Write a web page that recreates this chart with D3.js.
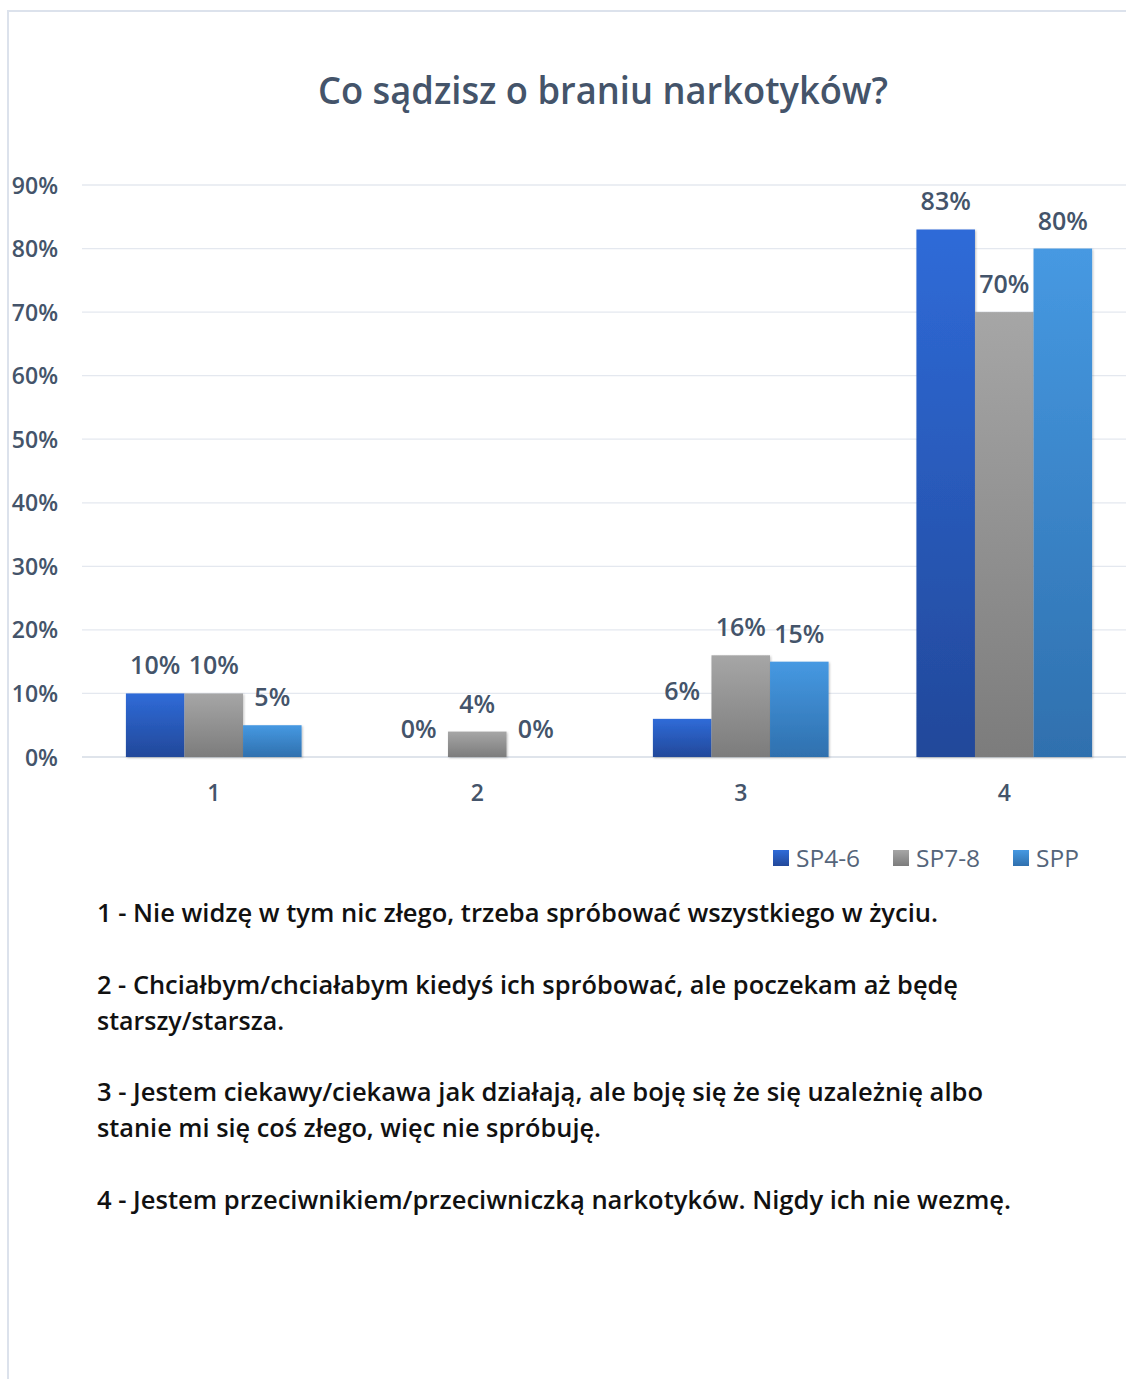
<!DOCTYPE html>
<html><head><meta charset="utf-8">
<script src="https://cdn.jsdelivr.net/npm/d3@7"></script>
<style>html,body{margin:0;padding:0;background:#fff;}svg{display:block;}</style>
</head><body>
<svg id="c" width="1126" height="1379"></svg>
<script>
const title = "Co sądzisz o braniu narkotyków?";
const categories = ["1", "2", "3", "4"];
const seriesNames = ["SP4-6", "SP7-8", "SPP"];
const sp46 = [0.10, 0.00, 0.06, 0.83];
const sp78 = [0.10, 0.04, 0.16, 0.70];
const spp  = [0.05, 0.00, 0.15, 0.80];
const yTicks = [0, 0.1, 0.2, 0.3, 0.4, 0.5, 0.6, 0.7, 0.8, 0.9];
const descLines = [
  "1 - Nie widzę w tym nic złego, trzeba spróbować  wszystkiego w życiu.",
  "2 - Chciałbym/chciałabym kiedyś ich spróbować, ale poczekam aż będę",
  "starszy/starsza.",
  "3 - Jestem ciekawy/ciekawa jak działają, ale boję się że się uzależnię albo",
  "stanie mi się coś złego, więc nie spróbuję.",
  "4 - Jestem przeciwnikiem/przeciwniczką narkotyków. Nigdy ich nie wezmę."
];

const seriesValues = [sp46, sp78, spp];
const gradStops = [["#2F6BD8", "#22489A"], ["#A6A6A6", "#7C7C7C"], ["#4699E2", "#2F70AE"]];

const svg = d3.select("#c");
const defs = svg.append("defs");
gradStops.forEach((s, i) => {
  const g = defs.append("linearGradient").attr("id", "g" + i)
    .attr("x1", 0).attr("y1", 0).attr("x2", 0).attr("y2", 1);
  g.append("stop").attr("offset", "0%").attr("stop-color", s[0]);
  g.append("stop").attr("offset", "100%").attr("stop-color", s[1]);
});
const f = defs.append("filter").attr("id", "sh").attr("x", "-10%").attr("y", "-10%").attr("width", "130%").attr("height", "130%");
f.append("feDropShadow").attr("dx", 1).attr("dy", 1).attr("stdDeviation", 1.2).attr("flood-color", "#000").attr("flood-opacity", 0.25);

// frame
svg.append("rect").attr("x", 8).attr("y", 11).attr("width", 1130).attr("height", 1380)
  .attr("fill", "#fff").attr("stroke", "#DCE2EC").attr("stroke-width", 2);

const slate = "#44546A";
const font = "'Open Sans', 'Noto Sans', sans-serif";

svg.append("text").attr("x", 603).attr("y", 104).attr("text-anchor", "middle")
  .attr("font-family", font).attr("font-size", 38).attr("font-weight", 600).attr("fill", slate)
  .attr("textLength", 570).attr("lengthAdjust", "spacingAndGlyphs")
  .text(title);

const x0 = d3.scaleBand().domain(categories).range([82, 1136]).paddingInner(1/3).paddingOuter(1/6);
const x1 = d3.scaleBand().domain(seriesNames).range([0, x0.bandwidth()]);
const y = d3.scaleLinear().domain([0, 0.9]).range([757, 185]);

// gridlines
svg.append("g").selectAll("line").data(yTicks).join("line")
  .attr("x1", 82).attr("x2", 1126)
  .attr("y1", d => y(d)).attr("y2", d => y(d))
  .attr("stroke", d => d === 0 ? "#D5DBE5" : "#E4E8EF").attr("stroke-width", 1.3);

// y axis
const yAxis = d3.axisLeft(y).tickValues(yTicks).tickFormat(d3.format(".0%")).tickSize(0).tickPadding(0);
const ya = svg.append("g").attr("transform", "translate(58,0)").call(yAxis);
ya.select(".domain").remove();
ya.selectAll("text").attr("font-family", font).attr("font-size", 23).attr("font-weight", 600)
  .attr("fill", slate).attr("dy", "0.35em");

// x axis
const xAxis = d3.axisBottom(x0).tickSize(0).tickPadding(0);
const xa = svg.append("g").attr("transform", "translate(0,785)").call(xAxis);
xa.select(".domain").remove();
xa.selectAll("text").attr("font-family", font).attr("font-size", 23).attr("font-weight", 600)
  .attr("fill", slate).attr("dy", "0.71em");

// bars
const groups = svg.append("g").selectAll("g").data(categories).join("g")
  .attr("transform", d => `translate(${x0(d)},0)`);
seriesNames.forEach((s, si) => {
  groups.append("rect")
    .attr("x", x1(s)).attr("width", x1.bandwidth())
    .attr("y", (d, i) => y(seriesValues[si][i]))
    .attr("height", (d, i) => y(0) - y(seriesValues[si][i]))
    .attr("fill", `url(#g${si})`)
    .attr("filter", "url(#sh)");
  groups.append("text")
    .attr("x", x1(s) + x1.bandwidth() / 2)
    .attr("y", (d, i) => y(seriesValues[si][i]) - 19)
    .attr("text-anchor", "middle")
    .attr("font-family", font).attr("font-size", 25).attr("font-weight", 600)
    .attr("fill", slate)
    .text((d, i) => d3.format(".0%")(seriesValues[si][i]));
});

// legend
const legX = [773, 893, 1013];
const leg = svg.append("g").selectAll("g").data(seriesNames).join("g")
  .attr("transform", (d, i) => `translate(${legX[i]},850)`);
leg.append("rect").attr("width", 16).attr("height", 16).attr("fill", (d, i) => `url(#g${i})`);
leg.append("text").attr("x", 23).attr("y", 8).attr("dy", "0.36em")
  .attr("font-family", font).attr("font-size", 24.5).attr("fill", "#55657A")
  .text(d => d);

// description
const descY = [922, 994, 1030, 1101, 1137, 1209];
const descW = [841, 861, 187, 886, 504, 914];
svg.append("g").selectAll("text").data(descLines).join("text")
  .attr("x", 97).attr("y", (d, i) => descY[i])
  .attr("font-family", font).attr("font-size", 26).attr("font-weight", 600)
  .attr("fill", "#111")
  .attr("textLength", (d, i) => descW[i]).attr("lengthAdjust", "spacingAndGlyphs")
  .text(d => d);
</script>
</body></html>
